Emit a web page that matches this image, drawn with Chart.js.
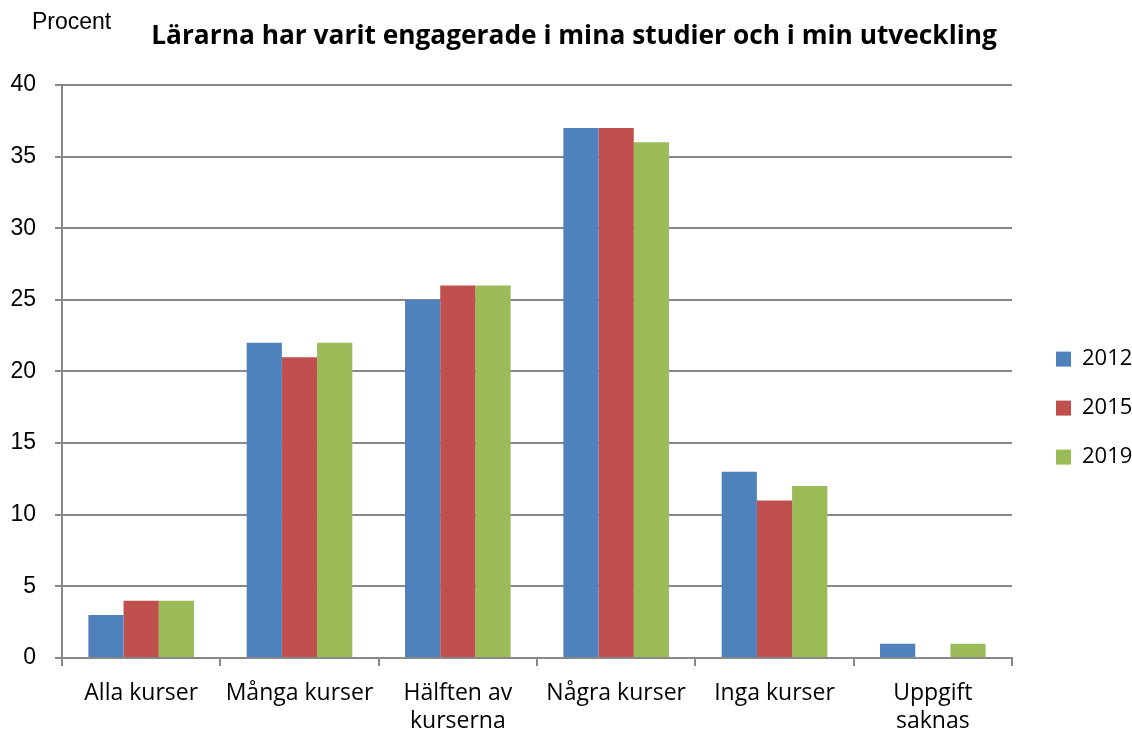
<!DOCTYPE html>
<html>
<head>
<meta charset="utf-8">
<script src="https://cdn.jsdelivr.net/npm/chart.js@4.4.1/dist/chart.umd.min.js"></script>
<style>
  html, body { margin: 0; padding: 0; background: #fff; }
  #wrap { width: 1132px; height: 733px; position: relative; }
</style>
</head>
<body>
<div id="wrap"><canvas id="c" width="1132" height="733"></canvas></div>
<script>
const categories = ['Alla kurser', 'Många kurser', ['Hälften av', 'kurserna'], 'Några kurser', 'Inga kurser', ['Uppgift', 'saknas']];
const series2012 = [3, 22, 25, 37, 13, 1];
const series2015 = [4, 21, 26, 37, 11, 0];
const series2019 = [4, 22, 26, 36, 12, 1];
const seriesLabels = ['2012', '2015', '2019'];
const yTicks = [0, 5, 10, 15, 20, 25, 30, 35, 40];
const titleText = 'Lärarna har varit engagerade i mina studier och i min utveckling';
const yUnitText = 'Procent';

const GRID = '#888888';
const SANS = '"Open Sans", Lato, sans-serif';
const ARIAL = '"Liberation Sans", Arial, sans-serif';

const unitPlugin = {
  id: 'unitLabel',
  afterDraw(chart) {
    const ctx = chart.ctx;
    ctx.save();
    ctx.font = '23px ' + ARIAL;
    ctx.fillStyle = '#000';
    ctx.textBaseline = 'alphabetic';
    ctx.textAlign = 'left';
    ctx.fillText(yUnitText, 32, 29);
    ctx.restore();
  }
};

new Chart(document.getElementById('c'), {
  type: 'bar',
  data: {
    labels: categories,
    datasets: [
      { label: seriesLabels[0], data: series2012, backgroundColor: '#4F81BD' },
      { label: seriesLabels[1], data: series2015, backgroundColor: '#C0504D' },
      { label: seriesLabels[2], data: series2019, backgroundColor: '#9BBB59' }
    ]
  },
  options: {
    responsive: false,
    animation: false,
    devicePixelRatio: 1,
    layout: { padding: { left: 8, right: -8, top: 0, bottom: 0 } },
    datasets: { bar: { categoryPercentage: 0.667, barPercentage: 1.0, borderWidth: 0 } },
    plugins: {
      title: {
        display: true,
        text: titleText,
        color: '#000',
        font: { family: SANS, size: 26.3, weight: 'bold', lineHeight: 1.2 },
        padding: { top: 21, bottom: 32.4 }
      },
      legend: {
        display: true,
        position: 'right',
        align: 'center',
        maxWidth: 111,
        title: { display: true, text: '', padding: 41, font: { size: 1 } },
        labels: {
          color: '#000',
          boxWidth: 15,
          boxHeight: 15,
          padding: 27,
          font: { family: SANS, size: 22 }
        }
      },
      tooltip: { enabled: false }
    },
    scales: {
      x: {
        offset: true,
        grid: { display: true, drawOnChartArea: false, drawTicks: true, tickLength: 8, color: GRID, lineWidth: 2, offset: true },
        border: { display: true, color: GRID, width: 2 },
        ticks: {
          color: '#000',
          padding: 13,
          maxRotation: 0,
          autoSkip: false,
          font: { family: SANS, size: 23, lineHeight: 1.22 }
        },
        afterFit(scale) { scale.height = 75; }
      },
      y: {
        min: 0,
        max: 40,
        afterBuildTicks(scale) { scale.ticks = yTicks.map(v => ({ value: v })); },
        grid: { display: true, drawTicks: true, tickLength: 7, color: GRID, lineWidth: 2 },
        border: { display: true, color: GRID, width: 2 },
        ticks: {
          color: '#000',
          padding: 19,
          font: { family: ARIAL, size: 23 }
        },
        afterFit(scale) { scale.width = 54; }
      },
      legendGap: {
        type: 'linear',
        position: 'right',
        display: true,
        grid: { display: false },
        border: { display: false },
        ticks: { display: false },
        afterFit(scale) { scale.width = 17; }
      }
    }
  },
  plugins: [unitPlugin]
});
</script>
</body>
</html>
